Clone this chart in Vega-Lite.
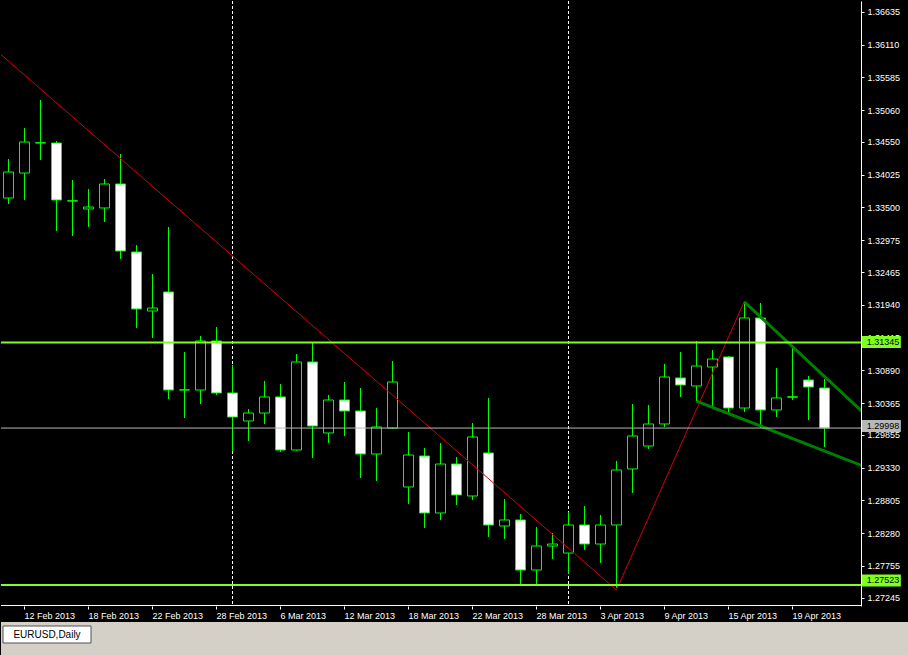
{
  "$schema": "https://vega.github.io/schema/vega-lite/v6.json",
  "background": "#000000",
  "padding": 0,
  "autosize": {"type": "pad"},
  "bounds": "full",
  "spacing": 2,
  "config": {"view": {"stroke": null}, "font": "Liberation Sans"},
  "datasets": {
    "candles": [
      {"date": "11 Feb 2013", "open": 1.33624, "high": 1.34239, "low": 1.33530, "close": 1.34034},
      {"date": "12 Feb 2013", "open": 1.34018, "high": 1.34728, "low": 1.33593, "close": 1.34507},
      {"date": "13 Feb 2013", "open": 1.34495, "high": 1.35169, "low": 1.34223, "close": 1.34491},
      {"date": "14 Feb 2013", "open": 1.34491, "high": 1.34523, "low": 1.33104, "close": 1.33593},
      {"date": "15 Feb 2013", "open": 1.33580, "high": 1.33908, "low": 1.33025, "close": 1.33577},
      {"date": "18 Feb 2013", "open": 1.33451, "high": 1.33766, "low": 1.33167, "close": 1.33482},
      {"date": "19 Feb 2013", "open": 1.33467, "high": 1.33924, "low": 1.33246, "close": 1.33845},
      {"date": "20 Feb 2013", "open": 1.33845, "high": 1.34318, "low": 1.32663, "close": 1.32789},
      {"date": "21 Feb 2013", "open": 1.32773, "high": 1.32883, "low": 1.31575, "close": 1.31875},
      {"date": "22 Feb 2013", "open": 1.31843, "high": 1.32426, "low": 1.31417, "close": 1.31890},
      {"date": "25 Feb 2013", "open": 1.32143, "high": 1.33167, "low": 1.30456, "close": 1.30598},
      {"date": "26 Feb 2013", "open": 1.30600, "high": 1.31197, "low": 1.30156, "close": 1.30598},
      {"date": "27 Feb 2013", "open": 1.30598, "high": 1.31449, "low": 1.30377, "close": 1.31370},
      {"date": "28 Feb 2013", "open": 1.31370, "high": 1.31591, "low": 1.30519, "close": 1.30551},
      {"date": "1 Mar 2013", "open": 1.30551, "high": 1.30992, "low": 1.29636, "close": 1.30172},
      {"date": "4 Mar 2013", "open": 1.30109, "high": 1.30298, "low": 1.29794, "close": 1.30235},
      {"date": "5 Mar 2013", "open": 1.30235, "high": 1.30740, "low": 1.30062, "close": 1.30488},
      {"date": "6 Mar 2013", "open": 1.30488, "high": 1.30692, "low": 1.29621, "close": 1.29652},
      {"date": "7 Mar 2013", "open": 1.29652, "high": 1.31165, "low": 1.29640, "close": 1.31039},
      {"date": "8 Mar 2013", "open": 1.31039, "high": 1.31339, "low": 1.29526, "close": 1.30030},
      {"date": "11 Mar 2013", "open": 1.29920, "high": 1.30519, "low": 1.29762, "close": 1.30440},
      {"date": "12 Mar 2013", "open": 1.30440, "high": 1.30724, "low": 1.29873, "close": 1.30267},
      {"date": "13 Mar 2013", "open": 1.30267, "high": 1.30629, "low": 1.29211, "close": 1.29589},
      {"date": "14 Mar 2013", "open": 1.29589, "high": 1.30314, "low": 1.29163, "close": 1.30015},
      {"date": "15 Mar 2013", "open": 1.29999, "high": 1.31055, "low": 1.29983, "close": 1.30724},
      {"date": "18 Mar 2013", "open": 1.29069, "high": 1.29936, "low": 1.28801, "close": 1.29573},
      {"date": "19 Mar 2013", "open": 1.29557, "high": 1.29684, "low": 1.28423, "close": 1.28659},
      {"date": "20 Mar 2013", "open": 1.28659, "high": 1.29762, "low": 1.28549, "close": 1.29431},
      {"date": "21 Mar 2013", "open": 1.29431, "high": 1.29542, "low": 1.28785, "close": 1.28943},
      {"date": "22 Mar 2013", "open": 1.28927, "high": 1.30078, "low": 1.28864, "close": 1.29857},
      {"date": "25 Mar 2013", "open": 1.29605, "high": 1.30472, "low": 1.28281, "close": 1.28470},
      {"date": "26 Mar 2013", "open": 1.28454, "high": 1.28880, "low": 1.28249, "close": 1.28549},
      {"date": "27 Mar 2013", "open": 1.28549, "high": 1.28643, "low": 1.27508, "close": 1.27760},
      {"date": "28 Mar 2013", "open": 1.27760, "high": 1.28438, "low": 1.27540, "close": 1.28139},
      {"date": "29 Mar 2013", "open": 1.28139, "high": 1.28344, "low": 1.27934, "close": 1.28170},
      {"date": "1 Apr 2013", "open": 1.28028, "high": 1.28675, "low": 1.27697, "close": 1.28470},
      {"date": "2 Apr 2013", "open": 1.28470, "high": 1.28769, "low": 1.28076, "close": 1.28170},
      {"date": "3 Apr 2013", "open": 1.28170, "high": 1.28627, "low": 1.27871, "close": 1.28470},
      {"date": "4 Apr 2013", "open": 1.28470, "high": 1.29479, "low": 1.27480, "close": 1.29337},
      {"date": "5 Apr 2013", "open": 1.29353, "high": 1.30377, "low": 1.28974, "close": 1.29873},
      {"date": "8 Apr 2013", "open": 1.29715, "high": 1.30361, "low": 1.29668, "close": 1.30062},
      {"date": "9 Apr 2013", "open": 1.30062, "high": 1.31008, "low": 1.30015, "close": 1.30803},
      {"date": "10 Apr 2013", "open": 1.30787, "high": 1.31197, "low": 1.30488, "close": 1.30677},
      {"date": "11 Apr 2013", "open": 1.30661, "high": 1.31370, "low": 1.30424, "close": 1.30976},
      {"date": "12 Apr 2013", "open": 1.30960, "high": 1.31228, "low": 1.30346, "close": 1.31086},
      {"date": "15 Apr 2013", "open": 1.31118, "high": 1.31134, "low": 1.30251, "close": 1.30314},
      {"date": "16 Apr 2013", "open": 1.30314, "high": 1.31985, "low": 1.30251, "close": 1.31733},
      {"date": "17 Apr 2013", "open": 1.31733, "high": 1.31969, "low": 1.29999, "close": 1.30283},
      {"date": "18 Apr 2013", "open": 1.30283, "high": 1.30945, "low": 1.30172, "close": 1.30472},
      {"date": "19 Apr 2013", "open": 1.30490, "high": 1.31291, "low": 1.30440, "close": 1.30485},
      {"date": "22 Apr 2013", "open": 1.30755, "high": 1.30819, "low": 1.30125, "close": 1.30645},
      {"date": "23 Apr 2013", "open": 1.30629, "high": 1.30771, "low": 1.29699, "close": 1.29998}
    ],
    "trend": [
      {"date": "8 Feb 2013", "price": 1.36001},
      {"date": "4 Apr 2013", "price": 1.27445},
      {"date": "16 Apr 2013", "price": 1.32001}
    ],
    "channel": [
      {"edge": "upper", "date": "16 Apr 2013", "price": 1.31985},
      {"edge": "upper", "date": "26 Apr 2013", "price": 1.30106},
      {"edge": "lower", "date": "11 Apr 2013", "price": 1.30424},
      {"edge": "lower", "date": "26 Apr 2013", "price": 1.29341}
    ],
    "separators": [
      {"date": "1 Mar 2013"},
      {"date": "1 Apr 2013"}
    ],
    "levels": [
      {"kind": "level", "price": 1.31345, "label": "1.31345"},
      {"kind": "bid", "price": 1.29998, "label": "1.29998"},
      {"kind": "level", "price": 1.27523, "label": "1.27523"}
    ]
  },
  "vconcat": [
    {
      "bounds": "flush",
      "spacing": 0,
      "resolve": {"scale": {"x": "independent", "y": "independent"}},
      "hconcat": [
        {
          "width": 860,
          "height": 605,
          "layer": [
            {
              "encoding": {
                "x": {
                  "field": "date",
                  "type": "ordinal",
                  "scale": {
                    "domain": ["8 Feb 2013", "11 Feb 2013", "12 Feb 2013", "13 Feb 2013", "14 Feb 2013", "15 Feb 2013", "18 Feb 2013", "19 Feb 2013", "20 Feb 2013", "21 Feb 2013", "22 Feb 2013", "25 Feb 2013", "26 Feb 2013", "27 Feb 2013", "28 Feb 2013", "1 Mar 2013", "4 Mar 2013", "5 Mar 2013", "6 Mar 2013", "7 Mar 2013", "8 Mar 2013", "11 Mar 2013", "12 Mar 2013", "13 Mar 2013", "14 Mar 2013", "15 Mar 2013", "18 Mar 2013", "19 Mar 2013", "20 Mar 2013", "21 Mar 2013", "22 Mar 2013", "25 Mar 2013", "26 Mar 2013", "27 Mar 2013", "28 Mar 2013", "29 Mar 2013", "1 Apr 2013", "2 Apr 2013", "3 Apr 2013", "4 Apr 2013", "5 Apr 2013", "8 Apr 2013", "9 Apr 2013", "10 Apr 2013", "11 Apr 2013", "12 Apr 2013", "15 Apr 2013", "16 Apr 2013", "17 Apr 2013", "18 Apr 2013", "19 Apr 2013", "22 Apr 2013", "23 Apr 2013", "24 Apr 2013", "25 Apr 2013", "26 Apr 2013"],
                    "range": [-16.5, 879.5],
                    "paddingInner": 0,
                    "paddingOuter": 0
                  },
                  "axis": {
                    "values": ["12 Feb 2013", "18 Feb 2013", "22 Feb 2013", "28 Feb 2013", "6 Mar 2013", "12 Mar 2013", "18 Mar 2013", "22 Mar 2013", "28 Mar 2013", "3 Apr 2013", "9 Apr 2013", "15 Apr 2013", "19 Apr 2013"],
                    "domain": false,
                    "grid": false,
                    "title": null,
                    "ticks": true,
                    "tickSize": 3,
                    "tickColor": "#ffffff",
                    "labelColor": "#ffffff",
                    "labelFont": "Liberation Sans",
                    "labelFontSize": 9,
                    "labelAlign": "left",
                    "labelBaseline": "top",
                    "labelPadding": 2,
                    "labelAngle": 0,
                    "labelOverlap": false,
                    "labelBound": false
                  }
                }
              },
              "layer": [
                {
                  "data": {"name": "separators"},
                  "mark": {"type": "rule", "color": "#ffffff", "strokeWidth": 1, "strokeDash": [3, 2]},
                  "encoding": {}
                },
                {
                  "data": {"name": "candles"},
                  "mark": {"type": "rule", "color": "#00ff00", "strokeWidth": 1},
                  "encoding": {
                    "y": {"field": "low", "type": "quantitative", "scale": {"domain": [1.27193, 1.367296], "nice": false, "zero": false}, "axis": null},
                    "y2": {"field": "high"}
                  }
                },
                {
                  "data": {"name": "candles"},
                  "mark": {"type": "bar", "width": 10, "stroke": "#00ff00", "strokeWidth": 1},
                  "encoding": {
                    "y": {"field": "open", "type": "quantitative", "scale": {"domain": [1.27193, 1.367296], "nice": false, "zero": false}, "axis": null},
                    "y2": {"field": "close"},
                    "fill": {"condition": {"test": "datum.close > datum.open", "value": "#000000"}, "value": "#ffffff"}
                  }
                },
                {
                  "data": {"name": "trend"},
                  "mark": {"type": "line", "color": "#d80000", "strokeWidth": 1, "clip": true},
                  "encoding": {
                    "y": {"field": "price", "type": "quantitative", "scale": {"domain": [1.27193, 1.367296], "nice": false, "zero": false}, "axis": null},
                    "order": {"value": null}
                  }
                },
                {
                  "data": {"name": "channel"},
                  "mark": {"type": "line", "color": "#008000", "strokeWidth": 3, "clip": true},
                  "encoding": {
                    "y": {"field": "price", "type": "quantitative", "scale": {"domain": [1.27193, 1.367296], "nice": false, "zero": false}, "axis": null},
                    "detail": {"field": "edge"},
                    "order": {"value": null}
                  }
                }
              ]
            },
            {
              "data": {"name": "levels"},
              "mark": {"type": "rule"},
              "encoding": {
                "y": {"field": "price", "type": "quantitative", "scale": {"domain": [1.27193, 1.367296], "nice": false, "zero": false}, "axis": null},
                "color": {"field": "kind", "type": "nominal", "scale": {"domain": ["level", "bid"], "range": ["#80ff20", "#b8b8b8"]}, "legend": null},
                "strokeWidth": {"field": "kind", "type": "nominal", "scale": {"domain": ["level", "bid"], "range": [2, 1]}, "legend": null}
              }
            },
            {
              "data": {"values": [{"frame": "bottom"}]},
              "mark": {"type": "rule", "color": "#ffffff", "strokeWidth": 1},
              "encoding": {
                "y": {"datum": 1.27201, "type": "quantitative", "scale": {"domain": [1.27193, 1.367296], "nice": false, "zero": false}, "axis": null}
              }
            }
          ]
        },
        {
          "width": 48,
          "height": 605,
          "data": {"name": "levels"},
          "encoding": {
            "y": {
              "field": "price",
              "type": "quantitative",
              "scale": {"domain": [1.27193, 1.367296], "nice": false, "zero": false},
              "axis": {
                "orient": "left",
                "values": [1.36635, 1.3611, 1.35585, 1.3506, 1.3455, 1.34025, 1.335, 1.32975, 1.32465, 1.3194, 1.31415, 1.3089, 1.30365, 1.29855, 1.2933, 1.28805, 1.2828, 1.27755, 1.27245],
                "format": ".5f",
                "grid": false,
                "title": null,
                "domain": true,
                "domainColor": "#ffffff",
                "domainWidth": 1,
                "ticks": true,
                "tickColor": "#ffffff",
                "tickSize": -3,
                "labelColor": "#ffffff",
                "labelFont": "Liberation Sans",
                "labelFontSize": 9,
                "labelAlign": "left",
                "labelBaseline": "middle",
                "labelPadding": -3,
                "labelOverlap": false,
                "labelBound": false,
                "labelFlush": false
              }
            }
          },
          "layer": [
            {
              "mark": {"type": "bar", "orient": "horizontal", "height": 12},
              "encoding": {
                "x": {"datum": 0.02, "type": "quantitative", "scale": {"domain": [0, 1]}, "axis": null},
                "x2": {"datum": 0.83},
                "color": {"field": "kind", "type": "nominal", "scale": {"domain": ["level", "bid"], "range": ["#80ff20", "#ffffff"]}, "legend": null}
              }
            },
            {
              "mark": {"type": "text", "align": "left", "baseline": "middle", "font": "Liberation Sans", "fontSize": 9, "color": "#000000"},
              "encoding": {
                "x": {"datum": 0.12, "type": "quantitative", "scale": {"domain": [0, 1]}, "axis": null},
                "text": {"field": "label"}
              }
            }
          ]
        }
      ]
    },
    {
      "width": 908,
      "height": 33,
      "view": {"fill": "#d4d0c8", "stroke": null},
      "data": {"values": [{"tab": "EURUSD,Daily"}]},
      "encoding": {
        "x": {"field": "tab", "type": "nominal", "scale": {"domain": ["EURUSD,Daily"], "range": [2, 90], "paddingInner": 0, "paddingOuter": 0}, "axis": null},
        "y": {"field": "tab", "type": "nominal", "scale": {"domain": ["EURUSD,Daily"], "range": [4, 21], "paddingInner": 0, "paddingOuter": 0}, "axis": null}
      },
      "layer": [
        {"mark": {"type": "rect", "fill": "#ffffff", "stroke": "#505050", "strokeWidth": 1}},
        {"mark": {"type": "text", "font": "Liberation Sans", "fontSize": 10, "color": "#000000", "align": "center", "baseline": "middle"}, "encoding": {"text": {"field": "tab"}}}
      ]
    }
  ]
}
